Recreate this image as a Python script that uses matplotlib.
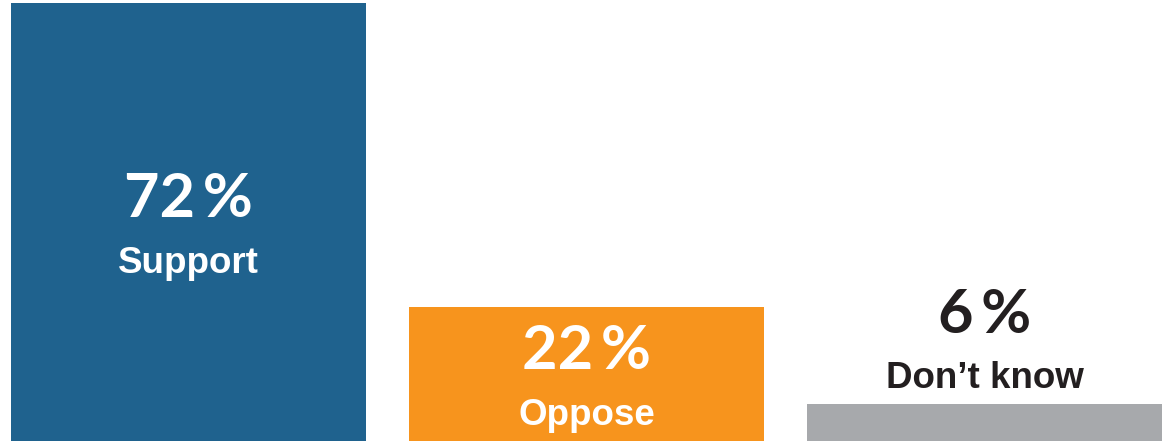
import matplotlib
matplotlib.use("Agg")
import matplotlib.pyplot as plt

labels = ["Support", "Oppose", "Don\u2019t know"]
values = [72, 22, 6]
colors = ["#1F628E", "#F7941D", "#A7A9AC"]
inside = [True, True, False]

NUM_FONT = ["Lato", "DejaVu Sans"]
LAB_FONT = "Liberation Sans"
INK = "#231F20"

fig = plt.figure(figsize=(11.66, 4.41), dpi=100)
ax = fig.add_axes([0, 0, 1, 1])
x = list(range(len(values)))
ax.bar(x, values, width=0.892, color=colors)
ax.set_xlim(-0.4736, 2.456)
ax.set_ylim(0, 72.49)
ax.axis("off")

for xi, v, lab, ins in zip(x, values, labels, inside):
    if ins:
        y0, dn, dl, col = v / 2, 3.6, -36.7, "white"
    else:
        y0, dn, dl, col = v, 51.8, 12.2, INK
    ax.annotate(f"{v}\u2009%", (xi, y0), xytext=(0, dn),
                textcoords="offset points", ha="center", va="baseline",
                fontsize=44, color=col, family=NUM_FONT, fontweight="bold")
    ax.annotate(lab, (xi, y0), xytext=(0, dl), textcoords="offset points",
                ha="center", va="baseline", fontsize=26.5, color=col,
                family=LAB_FONT, fontweight="bold")

fig.savefig("out.png", dpi=100)
